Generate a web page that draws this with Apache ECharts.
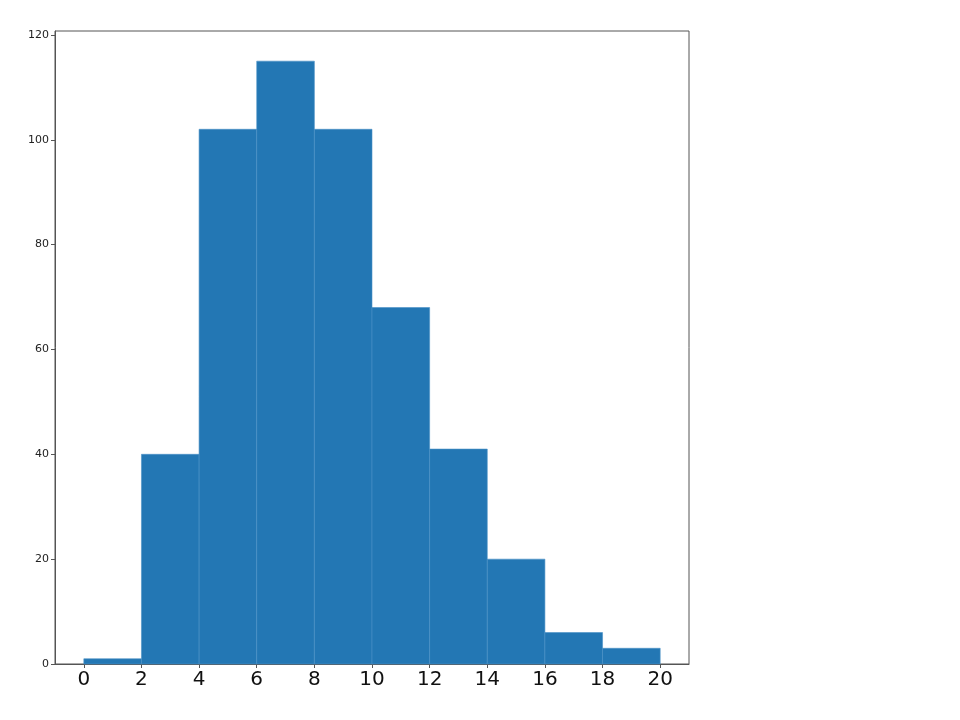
<!DOCTYPE html>
<html>
<head>
<meta charset="utf-8">
<script src="https://cdn.jsdelivr.net/npm/echarts@6/dist/echarts.min.js"></script>
<style>html,body{margin:0;padding:0;background:#fff;}#c{width:960px;height:720px;}</style>
</head>
<body>
<div id="c"></div>
<script>
const binStarts = [0, 2, 4, 6, 8, 10, 12, 14, 16, 18];
const binEnds = [2, 4, 6, 8, 10, 12, 14, 16, 18, 20];
const counts = [1, 40, 102, 115, 102, 68, 41, 20, 6, 3];
const xTicks = [0, 2, 4, 6, 8, 10, 12, 14, 16, 18, 20];
const yTicks = [0, 20, 40, 60, 80, 100, 120];

const data = binStarts.map((s, i) => [s, binEnds[i], counts[i]]);
const chart = echarts.init(document.getElementById('c'));
chart.setOption({
  animation: false,
  grid: {left: 55, right: 271, top: 31, bottom: 56, show: true, borderColor: '#555', borderWidth: 1, backgroundColor: 'transparent'},
  xAxis: {
    type: 'value', min: -1, max: 21,
    axisLine: {show: true, onZero: false, lineStyle: {color: '#555', width: 1}},
    axisTick: {show: true, length: 4, customValues: xTicks, lineStyle: {color: '#555'}},
    axisLabel: {customValues: xTicks, fontSize: 20, color: '#111', margin: 6, fontFamily: 'DejaVu Sans'},
    splitLine: {show: false}
  },
  yAxis: {
    type: 'value', min: 0, max: 120.75,
    axisLine: {show: true, onZero: false, lineStyle: {color: '#555', width: 1}},
    axisTick: {show: true, length: 4, customValues: yTicks, lineStyle: {color: '#555'}},
    axisLabel: {customValues: yTicks, fontSize: 11, color: '#222', margin: 6, fontFamily: 'DejaVu Sans'},
    splitLine: {show: false}
  },
  series: [{
    type: 'custom',
    data: data,
    encode: {x: [0, 1], y: 2},
    renderItem: function (params, api) {
      const p0 = api.coord([api.value(0), api.value(2)]);
      const p1 = api.coord([api.value(1), 0]);
      return {
        type: 'rect',
        shape: {x: p0[0], y: p0[1], width: p1[0] - p0[0], height: p1[1] - p0[1]},
        style: {fill: '#2377b4', stroke: '#4a90c6', lineWidth: 0.6}
      };
    }
  }]
});
</script>
</body>
</html>
